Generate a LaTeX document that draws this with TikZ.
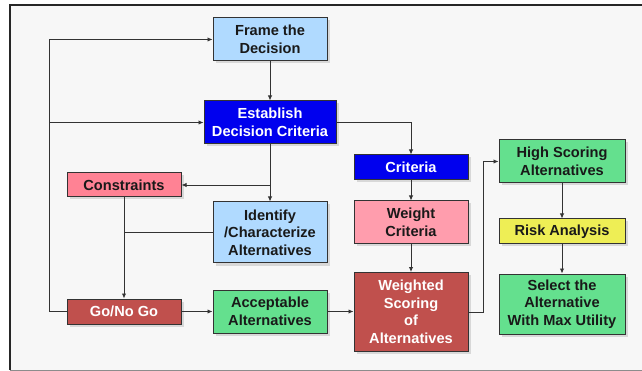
\documentclass[tikz,border=0pt]{standalone}
\usepackage{fontspec}
\setmainfont{Liberation Sans}
\usetikzlibrary{arrows.meta,shadows}
\definecolor{panel}{HTML}{F7F7F7}
\definecolor{lblue}{HTML}{B0DAFF}
\definecolor{dblue}{HTML}{0000EE}
\definecolor{rose}{HTML}{FF8294}
\definecolor{lrose}{HTML}{FF9DAD}
\definecolor{brick}{HTML}{C0504D}
\definecolor{mint}{HTML}{64E08E}
\definecolor{lemon}{HTML}{EEEE55}
\definecolor{edge}{HTML}{333333}
\tikzset{
  x=1pt, y=-1pt,
  box/.style={draw=edge, line width=1pt, inner sep=0pt, align=center,
    font=\bfseries\fontsize{14.6}{17.5}\selectfont, text=black!90,
    drop shadow={shadow xshift=2.5pt, shadow yshift=-2.5pt, fill=black, opacity=0.12}},
  wbox/.style={box, text=white},
  arr/.style={draw=edge, line width=0.9pt, -{Latex[length=5pt,width=4.5pt]}},
  ln/.style={draw=edge, line width=0.9pt},
}
\begin{document}
\begin{tikzpicture}
\useasboundingbox (0,0) rectangle (642,371);
% panel with its border
\fill[panel] (10,5) rectangle (642,370);
\draw[black!85, line width=2pt] (10,370) -- (10,5) -- (642,5);
\draw[black!45, line width=1pt] (10,370) -- (642,370);

% left column
\node[box, fill=lblue, minimum width=114pt, minimum height=43pt] (frame) at (270,39.5) {Frame the\\Decision};
\node[wbox, fill=dblue, minimum width=132pt, minimum height=43pt] (est) at (270,122.5) {Establish\\Decision Criteria};
\node[box, fill=rose, minimum width=114pt, minimum height=24pt] (cons) at (124,185) {Constraints};
\node[box, fill=lblue, minimum width=114pt, minimum height=61pt] (ident) at (270,232.5) {Identify\\/Characterize\\Alternatives};
\node[wbox, fill=brick, minimum width=114pt, minimum height=25pt] (go) at (124,311.5) {Go/No Go};
\node[box, fill=mint, minimum width=114pt, minimum height=43pt] (acc) at (270,311.5) {Acceptable\\Alternatives};

% middle column
\node[wbox, fill=dblue, minimum width=114pt, minimum height=25pt] (crit) at (411,167.5) {Criteria};
\node[box, fill=lrose, minimum width=114pt, minimum height=43pt] (weight) at (411,222.5) {Weight\\Criteria};
\node[wbox, fill=brick, minimum width=114pt, minimum height=79pt] (wsc) at (411,312) {Weighted\\Scoring\\of\\Alternatives};

% right column
\node[box, fill=mint, minimum width=126pt, minimum height=43pt] (high) at (562,161.5) {High Scoring\\Alternatives};
\node[box, fill=lemon, minimum width=126pt, minimum height=25pt] (risk) at (562,231.5) {Risk Analysis};
\node[box, fill=mint, minimum width=126pt, minimum height=60pt] (sel) at (562,304) {Select the\\Alternative\\With Max Utility};

% feedback loop on the left
\draw[arr] (go.west) -- ++(-17,0) coordinate (loop) |- (frame.west);
\draw[arr] (loop |- est.west) -- (est.west);

% main flow
\draw[arr] (frame) -- (est);
\draw[arr] (est) -- (ident);
\draw[arr] (est.south |- cons.east) -- (cons.east);
\draw[arr] (est.east) -| (crit.north);
\draw[arr] (cons) -- (go);
\draw[ln] (ident.west) -- (cons.south |- ident.west);
\draw[arr] (go) -- (acc);
\draw[arr] (acc.east) -- (acc.east -| wsc.west);
\draw[arr] (crit) -- (weight);
\draw[arr] (weight) -- (wsc);
\draw[arr] (wsc.east) -- ++(15,0) |- (high.west);
\draw[arr] (high) -- (risk);
\draw[arr] (risk) -- (sel);
\end{tikzpicture}
\end{document}
